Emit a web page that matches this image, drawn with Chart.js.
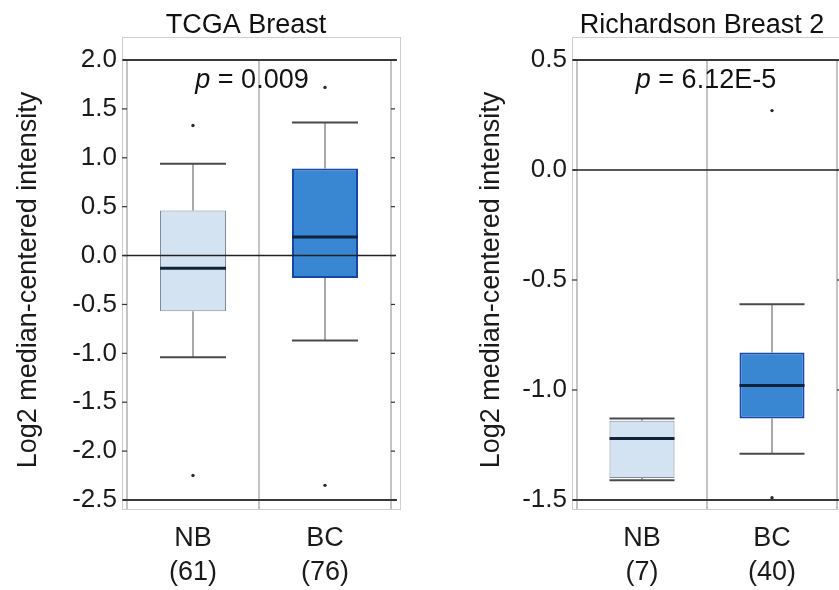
<!DOCTYPE html>
<html><head><meta charset="utf-8">
<script src="https://cdn.jsdelivr.net/npm/chart.js@4"></script>
<style>
html,body{margin:0;padding:0;background:#fff;overflow:hidden;width:839px;height:590px;}
canvas{position:absolute;top:0;}
#c1{left:0}
#c2{left:463px}
</style></head><body>
<canvas id="c1" width="420" height="590"></canvas>
<canvas id="c2" width="396" height="590"></canvas>
<script>
// ---------- data ----------
const categories = ['NB', 'BC'];

// TCGA Breast
const tcgaTitle = 'TCGA Breast';
const tcgaPValue = '0.009';
const tcgaCounts = ['(61)', '(76)'];
const tcgaWhiskerHigh = [0.94, 1.36];
const tcgaQ3 = [0.46, 0.89];
const tcgaMedian = [-0.13, 0.19];
const tcgaQ1 = [-0.57, -0.23];
const tcgaWhiskerLow = [-1.04, -0.87];
const tcgaOutlierCats = ['NB', 'NB', 'BC', 'BC'];
const tcgaOutlierValues = [1.33, -2.25, 1.72, -2.35];
const tcgaTicks = [-2.5, -2.0, -1.5, -1.0, -0.5, 0.0, 0.5, 1.0, 1.5, 2.0];

// Richardson Breast 2
const richTitle = 'Richardson Breast 2';
const richPValue = '6.12E-5';
const richCounts = ['(7)', '(40)'];
const richWhiskerHigh = [-1.13, -0.61];
const richQ3 = [-1.14, -0.83];
const richMedian = [-1.22, -0.98];
const richQ1 = [-1.40, -1.13];
const richWhiskerLow = [-1.41, -1.29];
const richOutlierCats = ['BC', 'BC'];
const richOutlierValues = [0.27, -1.49];
const richTicks = [-1.5, -1.0, -0.5, 0.0, 0.5];

const yTitle = 'Log2 median-centered intensity';
const FONT = "'Liberation Sans', Arial, Helvetica, sans-serif";
const boxFill = ['#d3e3f1', '#3987d2'];
const boxBorder = ['#7f8b96', '#1546a8'];
const boxBorderW = [1, 2];

// ---------- plugin ----------
function seg(ctx, x1, y1, x2, y2) { ctx.beginPath(); ctx.moveTo(x1, y1); ctx.lineTo(x2, y2); ctx.stroke(); }

const boxPlugin = {
  id: 'boxplot',
  beforeDatasetsDraw(chart) {
    const { ctx, chartArea: a, scales: { x, y } } = chart;
    const p = chart.options.plugins.boxplot;
    ctx.save();
    // outer frame
    ctx.strokeStyle = '#cdcdcd'; ctx.lineWidth = 1;
    ctx.strokeRect(a.left - p.frameL + 0.5, p.frameTop + 0.5, (a.right + p.frameR) - (a.left - p.frameL), p.frameBottom - p.frameTop);
    // category separators
    ctx.strokeStyle = '#ababab'; ctx.lineWidth = 1.4;
    const n = categories.length;
    for (let i = 0; i <= n; i++) {
      let xx;
      if (i === 0) xx = a.left; else if (i === n) xx = a.right;
      else xx = (x.getPixelForValue(i - 1) + x.getPixelForValue(i)) / 2;
      seg(ctx, xx, a.top, xx, p.frameBottom);
    }
    // whiskers
    const half = (x.getPixelForValue(1) - x.getPixelForValue(0)) * 0.25;
    for (let i = 0; i < n; i++) {
      const cx = x.getPixelForValue(i);
      ctx.strokeStyle = '#a9a9a9'; ctx.lineWidth = 2;
      seg(ctx, cx, y.getPixelForValue(p.whHi[i]), cx, y.getPixelForValue(p.q3[i]));
      seg(ctx, cx, y.getPixelForValue(p.q1[i]), cx, y.getPixelForValue(p.whLo[i]));
      ctx.strokeStyle = '#4a4a4a'; ctx.lineWidth = 2;
      seg(ctx, cx - half, y.getPixelForValue(p.whHi[i]), cx + half, y.getPixelForValue(p.whHi[i]));
      seg(ctx, cx - half, y.getPixelForValue(p.whLo[i]), cx + half, y.getPixelForValue(p.whLo[i]));
    }
    ctx.restore();
  },
  afterDatasetsDraw(chart) {
    const { ctx, chartArea: a, scales: { x, y } } = chart;
    const p = chart.options.plugins.boxplot;
    const n = categories.length;
    const half = (x.getPixelForValue(1) - x.getPixelForValue(0)) * 0.25;
    ctx.save();
    // medians
    ctx.strokeStyle = '#11233a'; ctx.lineWidth = 3;
    for (let i = 0; i < n; i++) {
      const cx = x.getPixelForValue(i), yy = y.getPixelForValue(p.med[i]);
      seg(ctx, cx - half, yy, cx + half, yy);
    }
    // zero line
    ctx.strokeStyle = '#222'; ctx.lineWidth = 1.5;
    const y0 = y.getPixelForValue(0);
    seg(ctx, a.left - p.frameL + 1, y0, a.right + 5, y0);
    // top / bottom lines
    ctx.strokeStyle = '#3a3a3a'; ctx.lineWidth = 2;
    seg(ctx, a.left - p.frameL + 1, a.top, a.right + 6, a.top);
    seg(ctx, a.left - p.frameL + 1, a.bottom, a.right + 6, a.bottom);
    // tick marks
    ctx.strokeStyle = '#333'; ctx.lineWidth = 1.2;
    y.ticks.forEach(t => {
      const yy = y.getPixelForValue(t.value);
      seg(ctx, a.left - p.frameL, yy, a.left, yy);
      seg(ctx, a.right, yy, a.right + 4, yy);
    });
    // title
    ctx.fillStyle = '#111';
    ctx.font = '27px ' + FONT;
    ctx.textAlign = 'center'; ctx.textBaseline = 'alphabetic';
    ctx.fillText(p.title, p.titleX, p.titleY);
    // p-value
    const pPart = 'p', rest = ' = ' + p.pValue;
    ctx.font = 'italic 27px ' + FONT;
    const w1 = ctx.measureText(pPart).width;
    ctx.font = '27px ' + FONT;
    const w2 = ctx.measureText(rest).width;
    const sx = p.pX - (w1 + w2) / 2;
    ctx.textAlign = 'left';
    ctx.font = 'italic 27px ' + FONT;
    ctx.fillText(pPart, sx, p.pY);
    ctx.font = '27px ' + FONT;
    ctx.fillText(rest, sx + w1, p.pY);
    ctx.restore();
  }
};

function makeChart(id, cfg) {
  const outliers = cfg.outCats.map((c, i) => ({ x: c, y: cfg.outVals[i] }));
  return new Chart(document.getElementById(id), {
    type: 'bar',
    data: {
      labels: categories,
      datasets: [
        {
          type: 'bar',
          data: categories.map((c, i) => [cfg.q1[i], cfg.q3[i]]),
          backgroundColor: boxFill,
          borderColor: boxBorder,
          borderWidth: boxBorderW,
          borderSkipped: false,
          barPercentage: 0.5,
          categoryPercentage: 1.0,
          order: 2
        },
        {
          type: 'line',
          data: outliers,
          showLine: false,
          pointRadius: 1.7,
          pointBackgroundColor: '#2a2a2a',
          pointBorderWidth: 0,
          order: 1
        }
      ]
    },
    options: {
      responsive: false,
      animation: false,
      layout: { padding: { top: 60, right: cfg.padRight, left: 0, bottom: 0 } },
      plugins: {
        legend: { display: false },
        tooltip: { enabled: false },
        boxplot: {
          q1: cfg.q1, q3: cfg.q3, med: cfg.med, whHi: cfg.whHi, whLo: cfg.whLo,
          frameL: cfg.frameL, frameR: 9, frameTop: 37, frameBottom: 509,
          title: cfg.title, titleX: cfg.titleX, titleY: 33,
          pValue: cfg.pValue, pX: cfg.pX, pY: 88
        }
      },
      scales: {
        x: {
          type: 'category',
          grid: { display: false, drawTicks: false },
          border: { display: false },
          ticks: {
            font: { family: FONT, size: 27, lineHeight: 1.26 },
            color: '#1a1a1a', padding: 22, maxRotation: 0, autoSkip: false,
            callback: (v, i) => [categories[i], cfg.counts[i]]
          },
          afterFit(s) { s.height = 90; }
        },
        y: {
          min: cfg.min, max: cfg.max,
          grid: { display: false, drawTicks: false },
          border: { display: false },
          afterBuildTicks(s) { s.ticks = cfg.ticks.map(v => ({ value: v })); },
          ticks: {
            font: { family: FONT, size: 26 }, color: '#1a1a1a', padding: 10,
            callback: v => Number(v).toFixed(1)
          },
          title: {
            display: true, text: yTitle, color: '#1a1a1a',
            font: { family: FONT, size: 27 }, padding: { top: 12, bottom: 0 }
          },
          afterFit(s) { s.width = cfg.yWidth; }
        }
      }
    },
    plugins: [boxPlugin]
  });
}

makeChart('c1', {
  q1: tcgaQ1, q3: tcgaQ3, med: tcgaMedian, whHi: tcgaWhiskerHigh, whLo: tcgaWhiskerLow,
  outCats: tcgaOutlierCats, outVals: tcgaOutlierValues, ticks: tcgaTicks, counts: tcgaCounts,
  min: -2.5, max: 2.0, yWidth: 127, padRight: 29, frameL: 5,
  title: tcgaTitle, titleX: 246, pValue: tcgaPValue, pX: 252
});
makeChart('c2', {
  q1: richQ1, q3: richQ3, med: richMedian, whHi: richWhiskerHigh, whLo: richWhiskerLow,
  outCats: richOutlierCats, outVals: richOutlierValues, ticks: richTicks, counts: richCounts,
  min: -1.5, max: 0.5, yWidth: 114, padRight: 22, frameL: 5,
  title: richTitle, titleX: 239, pValue: richPValue, pX: 243
});
</script>
</body></html>
